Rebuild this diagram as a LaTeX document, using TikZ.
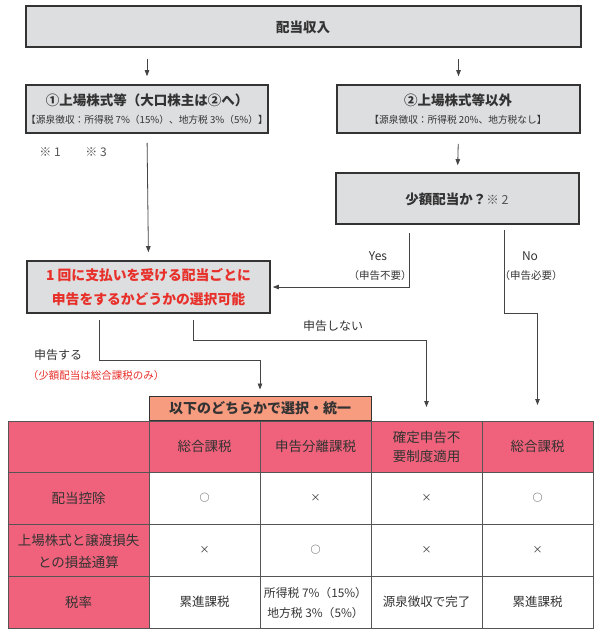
\documentclass[tikz,border=0pt]{standalone}
\usepackage{fontspec}
\setmainfont{Noto Sans CJK JP}
\usetikzlibrary{arrows.meta,calc}
\definecolor{boxgray}{HTML}{DDDEE0}
\definecolor{pinkc}{HTML}{F0627B}
\definecolor{orangec}{HTML}{F89C80}
\definecolor{redt}{HTML}{E8302A}
\definecolor{txt}{HTML}{333333}
\definecolor{linec}{HTML}{444444}
\definecolor{gridc}{HTML}{555555}
\begin{document}
\begin{tikzpicture}[x=1pt,y=-1pt,
  gbox/.style={draw=txt,line width=1.6pt,fill=boxgray,inner sep=0pt},
  obox/.style={draw=txt,line width=1pt,fill=orangec,inner sep=0pt},
  conn/.style={draw=linec,line width=0.8pt},
  arr/.style={conn,-{Triangle[length=6pt,width=4.5pt]}},
  ttl/.style={text=txt,font=\fontsize{13.5}{15}\selectfont\bfseries,inner sep=0pt},
  sub/.style={text=txt,font=\fontsize{9.7}{11}\selectfont,inner sep=0pt},
  lbl/.style={text=txt,font=\fontsize{12}{13}\selectfont,inner sep=0pt},
  sml/.style={text=txt,font=\fontsize{10.5}{11}\selectfont,inner sep=0pt},
  redl/.style={text=redt,font=\fontsize{13.8}{15}\selectfont\bfseries,inner sep=0pt},
  cell/.style={text=txt,font=\fontsize{13.5}{14}\selectfont,inner sep=0pt,align=center},
  mk/.style={text=txt,font=\fontsize{10}{12}\selectfont,inner sep=0pt}
]
\useasboundingbox (0,0) rectangle (600,637);
\fill[white] (0,0) rectangle (600,637);

% boxes
\node[gbox,minimum width=555pt,minimum height=41pt] (top) at (303.5,26.5) {};
\node[ttl] (topt) at (303,27) {配当収入};

\node[gbox,minimum width=242pt,minimum height=48pt] (b1) at (147,109) {};
\node[ttl] (b1t) at (147,100) {①上場株式等（大口株主は②へ）};
\node[sub] (b1s) at (147,120) {【源泉徴収：所得税 7\%（15\%）、地方税 3\%（5\%）】};

\node[gbox,minimum width=243pt,minimum height=48pt] (b2) at (458.5,109) {};
\node[ttl] (b2t) at (458,100) {②上場株式等以外};
\node[sub] (b2s) at (458,120) {【源泉徴収：所得税 20\%、地方税なし】};

\node[gbox,minimum width=243pt,minimum height=51pt] (b3) at (457.5,198.5) {};
\node[text=txt,inner sep=0pt] (b3t) at (457,199) {{\fontsize{13.5}{15}\selectfont\bfseries 少額配当か？}{\fontsize{12.5}{15}\selectfont\color{gridc}※ 2}};

\node[gbox,minimum width=243pt,minimum height=52pt] (b4) at (148.5,287) {};
\node[redl] (b4a) at (148.5,275) {1 回に支払いを受ける配当ごとに};
\node[redl] (b4b) at (148.5,299) {申告をするかどうかの選択可能};

\node[obox,minimum width=222pt,minimum height=24pt] (ob) at (260,408) {};
\node[ttl,font=\fontsize{14}{15}\selectfont\bfseries] (obt) at (260,408) {以下のどちらかで選択・統一};

% notes
\node[lbl,text=gridc] (n1) at (50,152) {※ 1};
\node[lbl,text=gridc] (n3) at (96,152) {※ 3};

% connectors
\draw[arr,shorten <=11pt,shorten >=8pt] (top.south -| b1) -- (b1.north);
\draw[arr,shorten <=11pt,shorten >=8pt] (top.south -| b2) -- (b2.north);
\draw[arr,shorten <=10pt,shorten >=7pt] (b2.south) -- (b3.north);
\draw[arr,shorten <=9pt,shorten >=8pt] (b1.south) -- (b4.north);

\coordinate (yesx) at (409,0);
\draw[arr,shorten <=8pt,shorten >=2pt] (b3.south -| yesx) |- (b4.east);
\node[lbl] (yes) at (378,256) {Yes};
\node[sml] (yesn) at (380,276) {（申告不要）};

\coordinate (nox) at (504,0);
\coordinate (nobend) at (504,313);
\coordinate (noend) at (537.5,405);
\draw[arr,shorten <=5pt] (b3.south -| nox) -- (nobend) -| (noend);
\node[lbl] (no) at (530,256) {No};
\node[sml] (non) at (531,276) {（申告必要）};

\coordinate (s1x) at (99,0);
\coordinate (s1y) at (0,360);
\draw[arr,shorten <=6pt,shorten >=6pt] (b4.south -| s1x) |- (s1y -| ob.north) -- (ob.north);
\node[lbl] (s1) at (58,355) {申告する};
\node[sml,text=redt] (s1n) at (96,376) {（少額配当は総合課税のみ）};

\coordinate (s2x) at (193,0);
\coordinate (s2y) at (0,340);
\coordinate (s2end) at (426.5,407);
\draw[arr,shorten <=6pt] (b4.south -| s2x) |- (s2y -| s2end) -- (s2end);
\node[lbl] (s2) at (333,326) {申告しない};

% table
\fill[pinkc] (8,421) rectangle (593,472);
\fill[pinkc] (8,472) rectangle (149,628);
\draw[gridc,line width=0.9pt] (8,421) rectangle (593,628);
\foreach \yy in {472,524,576} \draw[gridc,line width=0.9pt] (8,\yy) -- (593,\yy);
\foreach \xx in {149,260,371,482} \draw[gridc,line width=0.9pt] (\xx,421) -- (\xx,628);

\node[cell] (h1) at (204.5,446.5) {総合課税};
\node[cell] (h2) at (315.5,446.5) {申告分離課税};
\node[cell,font=\fontsize{13.5}{19}\selectfont] (h3) at (426.5,446.5) {確定申告不\\要制度適用};
\node[cell] (h4) at (537.5,446.5) {総合課税};

\node[cell] (r1) at (78.5,498) {配当控除};
\node[mk] (c11) at (204.5,498) {○};
\node[mk] (c12) at (315.5,498) {×};
\node[mk] (c13) at (426.5,498) {×};
\node[mk] (c14) at (537.5,498) {○};

\node[cell,font=\fontsize{13.5}{22}\selectfont] (r2) at (78.5,551) {上場株式と譲渡損失\\との損益通算};
\node[mk] (c21) at (204.5,550) {×};
\node[mk] (c22) at (315.5,550) {○};
\node[mk] (c23) at (426.5,550) {×};
\node[mk] (c24) at (537.5,550) {×};

\node[cell] (r3) at (78.5,602) {税率};
\node[cell,font=\fontsize{12.5}{13}\selectfont] (c31) at (204.5,602) {累進課税};
\node[cell,font=\fontsize{11.8}{20}\selectfont] (c32) at (315.5,603) {所得税 7\%（15\%）\\地方税 3\%（5\%）};
\node[cell,font=\fontsize{12.5}{13}\selectfont] (c33) at (426.5,602) {源泉徴収で完了};
\node[cell,font=\fontsize{12.5}{13}\selectfont] (c34) at (537.5,602) {累進課税};
\end{tikzpicture}
\end{document}
